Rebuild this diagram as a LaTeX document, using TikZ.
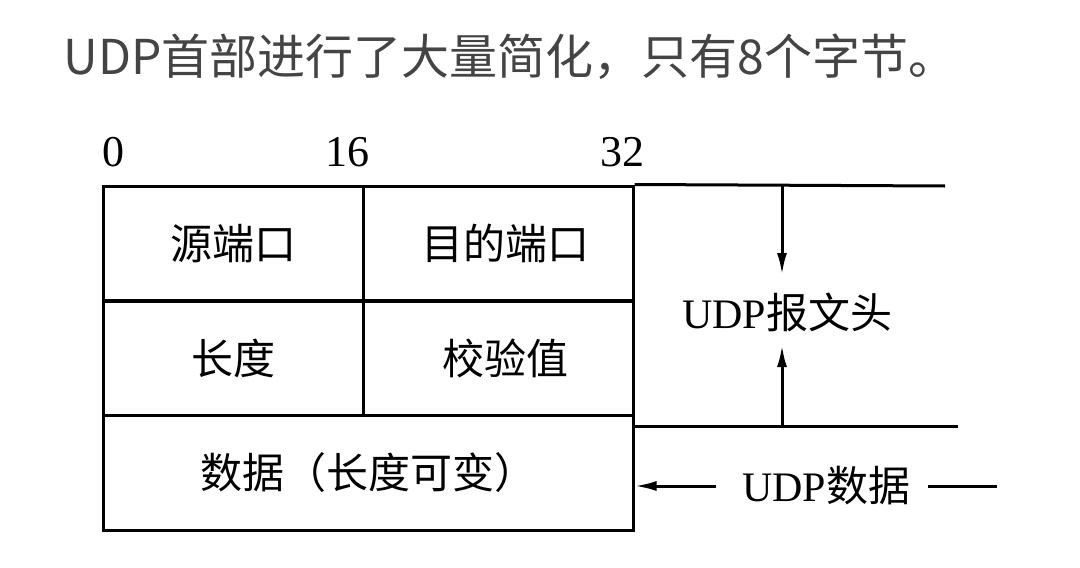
\documentclass[tikz,border=0pt]{standalone}
\usepackage{fontspec}
\setmainfont{Liberation Serif}
\newfontfamily\cjk{Noto Sans CJK SC}
\usetikzlibrary{arrows.meta}
\definecolor{titlegray}{HTML}{444444}
\newcommand{\zh}[1]{{\cjk #1}}
\begin{document}
\begin{tikzpicture}[x=0.5pt,y=-0.5pt,
  line width=1.5pt,
  cell/.style={draw, minimum height=57.5pt, inner sep=0pt,
    font=\fontsize{21}{25}\selectfont},
  lcell/.style={cell, minimum width=130pt},
  rcell/.style={cell, minimum width=135pt},
  lbl/.style={inner sep=0pt, font=\fontsize{21}{25}\selectfont},
  bitnum/.style={inner sep=0pt, font=\fontsize{22}{26}\selectfont},
  arr/.style={-{Latex[length=11pt,width=5pt]}}]
\useasboundingbox (0,0) rectangle (1080,567);
\fill[white] (0,0) rectangle (1080,567);

% heading
\node[anchor=base west, inner sep=0pt, text=titlegray,
  font=\cjk\fontsize{24}{28}\selectfont] (title) at (62,75)
  {UDP首部进行了大量简化，只有8个字节。};

% bit positions
\node[bitnum] (b0) at (113,152) {0};
\node[bitnum] (b16) at (347,152) {16};
\node[bitnum] (b32) at (622,152) {32};

% header fields and data
\node[lcell] (src) at (233,243.5) {\zh{源端口}};
\node[rcell] (dst) at (498,243.5) {\hspace{7pt}\zh{目的端口}};
\node[lcell] (len) at (233,358) {\zh{长度}};
\node[rcell] (chk) at (498,358) {\hspace{7pt}\zh{校验值}};
\node[cell, minimum width=265pt] (data) at (368,472.5) {\zh{数据（长度可变）}};

% header span on the right
\coordinate (topR) at (945,186);
\coordinate (botR) at (958,426);
\draw (dst.north east) -- (topR);
\draw (data.north east |- botR) -- (botR);
\node[lbl] (hdr) at (787,312) {UDP\zh{报文头}};
\coordinate (downEnd) at (782,275);
\coordinate (upEnd) at (782,345);
\draw[arr] (downEnd |- topR) -- (downEnd);
\draw[arr] (upEnd |- botR) -- (upEnd);

% data span label
\node[lbl] (dlab) at (826,486) {UDP\zh{数据}};
\coordinate (dL) at (716,486);
\coordinate (dR1) at (928,486);
\coordinate (dR2) at (997,486);
\draw[arr] (dL) -- (data.east |- dL);
\draw (dR1) -- (dR2);
\end{tikzpicture}
\end{document}
